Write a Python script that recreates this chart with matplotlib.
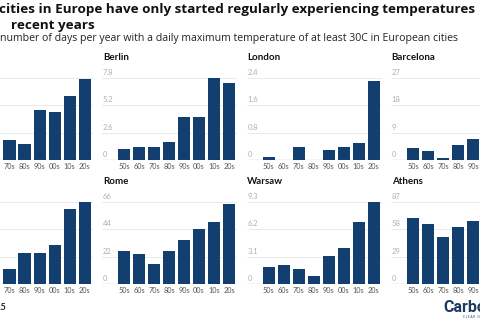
import matplotlib
matplotlib.use('Agg')
from matplotlib import pyplot as plt

plt.rcParams['font.family'] = ['Lato', 'DejaVu Sans']

W, H = 480, 320
decades = ['50s', '60s', '70s', '80s', '90s', '00s', '10s', '20s']

# panels, row by row; the first column is mostly cut off in the reference
top_cities = ['Paris', 'Berlin', 'London', 'Barcelona']
top_max = [12, 7.8, 2.4, 27]
top_values = [
    [2.0, 2.4, 2.9, 2.4, 7.3, 7.0, 9.4, 11.9],
    [1.05, 1.2, 1.2, 1.74, 4.06, 4.06, 7.83, 7.3],
    [0.08, 0, 0.38, 0, 0.28, 0.37, 0.49, 2.31],
    [3.85, 2.85, 0.77, 4.8, 6.8, 7.5, 11.0, 20.0],
]
bottom_cities = ['Madrid', 'Rome', 'Warsaw', 'Athens']
bottom_max = [60, 66, 9.3, 87]
bottom_values = [
    [14.0, 13.0, 11.2, 22.9, 22.9, 28.5, 54.6, 60.0],
    [26.3, 23.9, 15.8, 26.3, 35.2, 44.0, 49.7, 64.7],
    [1.96, 2.15, 1.7, 0.94, 3.21, 4.05, 7.07, 9.26],
    [69.7, 63.7, 50.2, 60.1, 66.5, 70.0, 74.0, 80.0],
]

bar_color = '#123f6f'
fig = plt.figure(figsize=(W / 100, H / 100), dpi=100)


def fmt(v):
    if v == 0:
        return '0'
    if float(v).is_integer():
        return str(int(v))
    return ('%.1f' % v)


def draw_panel(left, base, name, vmax, values):
    # left / base in pixels (base = y of zero line from top)
    ax = fig.add_axes([left / W, 1 - base / H, 135 / W, 82 / H])
    x = list(range(len(decades)))
    ax.bar(x, values, width=0.8, color=bar_color, zorder=3)
    ax.set_xlim(-22 / 15, 7 + 8 / 15)
    ax.set_ylim(0, vmax)
    for s in ax.spines.values():
        s.set_visible(False)
    ax.set_yticks([])
    ax.set_xticks(x)
    ax.set_xticklabels(decades, fontsize=5.2, color='#555555')
    ax.tick_params(axis='x', length=0, pad=2)
    x0 = -22 / 15
    for i in range(4):
        v = vmax * i / 3
        if i > 0:
            ax.axhline(v, color='#e6e6e6', lw=0.6, zorder=1)
        lab = fmt(round(v, 1)) if vmax < 10 else fmt(round(v))
        ax.text(x0 + 0.05, v + vmax * 0.025, lab, fontsize=5.5, color='#b0b0b0',
                ha='left', va='bottom')
    ax.axhline(0, color='#444444', lw=0.8, zorder=4)
    ax.text(x0 + 0.05, vmax * 1.2, name, fontsize=7, fontweight='bold',
            color='#111111', ha='left', va='bottom')
    return ax


lefts = [102 + (c - 1) * 144.5 for c in range(4)]
for c in range(4):
    draw_panel(lefts[c], 160, top_cities[c], top_max[c], top_values[c])
    draw_panel(lefts[c], 284, bottom_cities[c], bottom_max[c], bottom_values[c])

# headings (left part cut off in the reference)
head_font = ['Open Sans', 'DejaVu Sans']
fig.text(-1 / W, 1 - 10 / H,
         'cities in Europe have only started regularly experiencing temperatures',
         fontsize=9.7, fontweight='bold', color='#111111', va='center', ha='left',
         family=head_font)
fig.text(11 / W, 1 - 26 / H, 'recent years',
         fontsize=9.7, fontweight='bold', color='#111111', va='center', ha='left',
         family=head_font)
fig.text(0 / W, 1 - 38 / H,
         'number of days per year with a daily maximum temperature of at least 30C in European cities',
         fontsize=7.6, color='#222222', va='center', ha='left', family=head_font)

# source and logo
fig.text(6 / W, 1 - 307 / H, 'Source: ERA5', fontsize=6.5, fontweight='bold',
         color='#222222', ha='right', va='center')
fig.text(443 / W, 1 - 307 / H, 'CarbonBrief', fontsize=11.5, fontweight='bold',
         color='#1b3a5c', ha='left', va='center', family=['Roboto', 'DejaVu Sans'])
fig.text(463 / W, 1 - 317 / H, 'C L E A R   O N   C L I M A T E', fontsize=2.2,
         color='#1b3a5c', ha='left', va='center')

fig.savefig('out.png', dpi=100)
